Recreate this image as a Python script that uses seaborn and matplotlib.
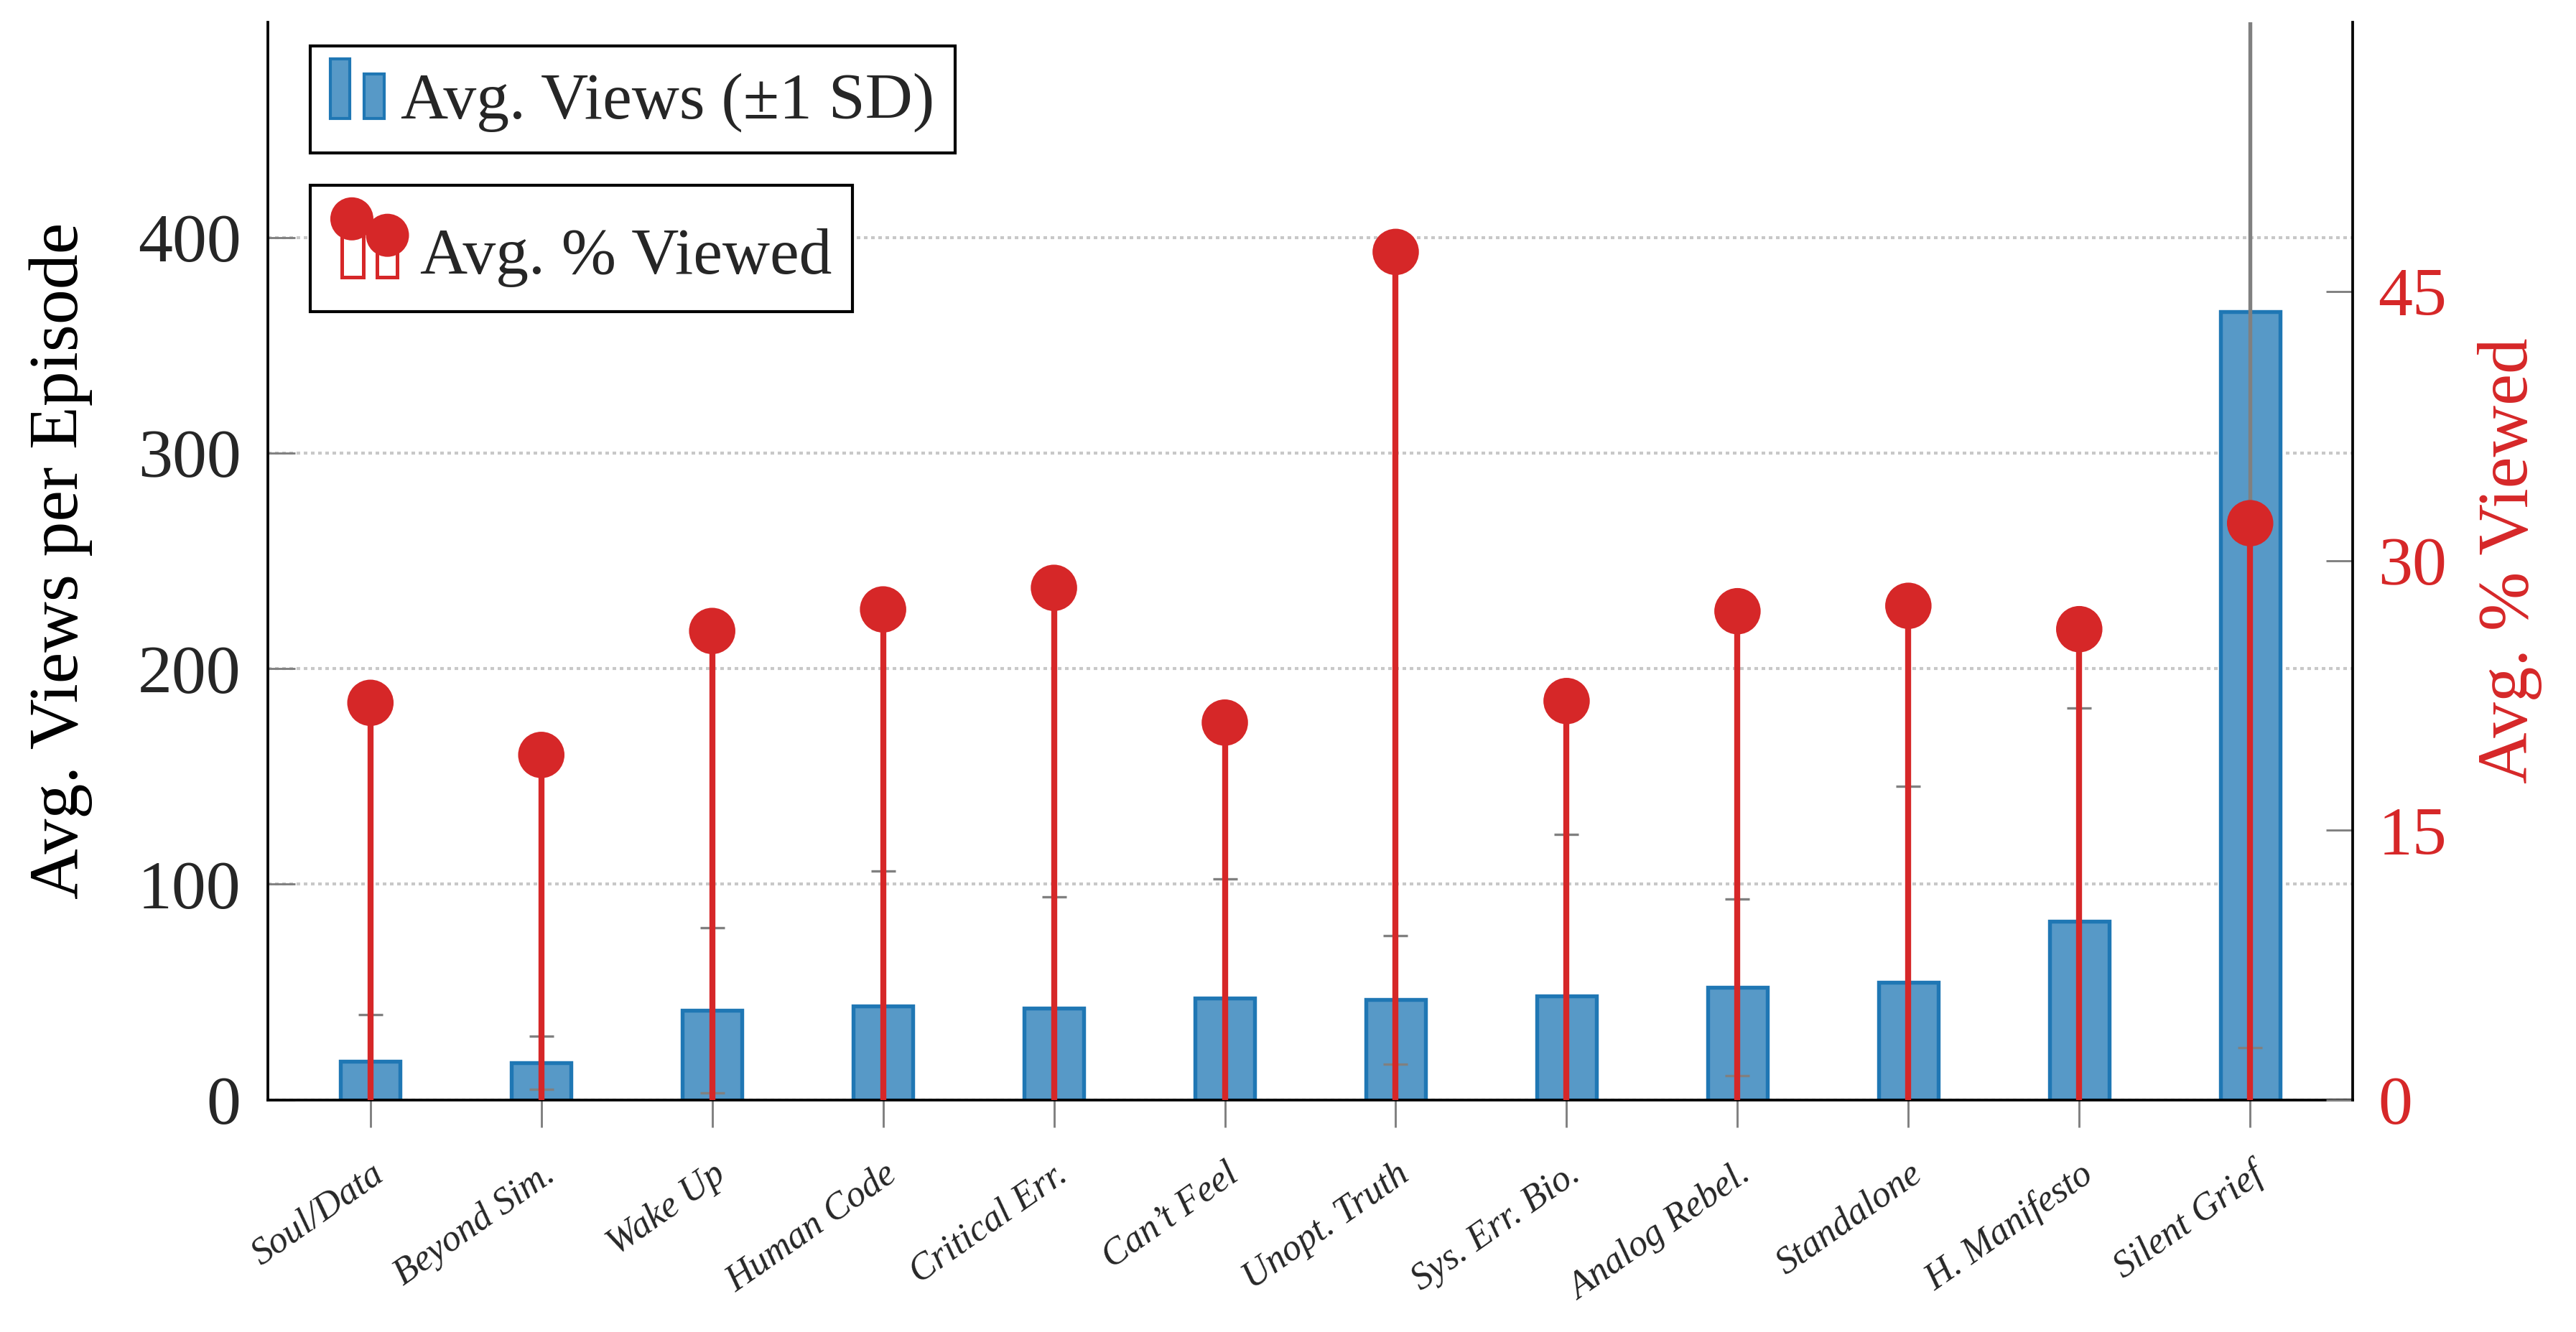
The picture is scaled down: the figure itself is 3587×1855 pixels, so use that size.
import numpy as np
import pandas as pd
import matplotlib
matplotlib.use("Agg")
import matplotlib.pyplot as plt
import seaborn as sns
from matplotlib.legend_handler import HandlerBase
from matplotlib.patches import Rectangle, Circle
from matplotlib.lines import Line2D
from matplotlib.offsetbox import DrawingArea

# ---------------- data ----------------
categories = ["Soul/Data", "Beyond Sim.", "Wake Up", "Human Code", "Critical Err.",
              "Can\u2019t Feel", "Unopt. Truth", "Sys. Err. Bio.", "Analog Rebel.",
              "Standalone", "H. Manifesto", "Silent Grief"]
avg_views = [18.0, 17.2, 41.6, 43.5, 42.5, 47.3, 46.4, 48.1, 52.1, 54.6, 82.9, 365.7]
sd_views = [21.4, 12.2, 38.4, 62.5, 51.5, 55.1, 29.7, 74.9, 41.0, 90.9, 99.0, 341.5]
avg_pct_viewed = [22.1, 19.2, 26.1, 27.3, 28.5, 21.0, 47.2, 22.2, 27.2, 27.5, 26.2, 32.1]

left_ticks = [0, 100, 200, 300, 400]
right_ticks = [0, 15, 30, 45]

BLUE_FILL = "#5799c7"
BLUE_EDGE = "#1f77b4"
RED = "#d62728"
GRAY = "#808080"

df = pd.DataFrame({"episode": categories, "views": avg_views,
                   "sd": sd_views, "pct": avg_pct_viewed})

sns.set_style("white")
plt.rcParams["font.family"] = ["Liberation Serif", "DejaVu Serif"]
plt.rcParams["mathtext.fontset"] = "stix"

fig = plt.figure(figsize=(3587 / 300, 1855 / 300), dpi=300)
ax = fig.add_axes([0.10399, 0.17429, 0.80931, 0.80922])

# bars
sns.barplot(data=df, x="episode", y="views", ax=ax, width=0.35, color=BLUE_FILL,
            saturation=1, edgecolor=BLUE_EDGE, linewidth=1.3, errorbar=None, zorder=2)
xpos = np.arange(len(categories))
ax.errorbar(xpos, df["views"], yerr=df["sd"], fmt="none", ecolor=GRAY,
            elinewidth=1.3, capsize=4, capthick=0.8, zorder=3)

ax.set_xlim(-0.6, len(categories) - 0.4)
ax.set_ylim(0, 500)
ax.set_yticks(left_ticks)
ax.set_axisbelow(True)
ax.yaxis.grid(True, linestyle=(0, (1.2, 1.2)), color="#c8c8c8", linewidth=1.0)
ax.xaxis.grid(False)
ax.set_xlabel("")
ax.set_ylabel("Avg. Views per Episode", fontsize=23.5, color="black")
ax.yaxis.set_label_coords(-0.084, 0.5)

ax.set_xticks(xpos)
ax.set_xticklabels(categories, rotation=35, ha="right", va="top",
                   rotation_mode="anchor", fontstyle="italic", fontsize=12.5)
ax.tick_params(axis="x", direction="out", length=9, width=0.7, color=GRAY, pad=10,
               bottom=True)
ax.tick_params(axis="y", direction="in", length=9, width=0.7, color=GRAY,
               labelsize=23, pad=9, left=True)

for s in ["left", "bottom"]:
    ax.spines[s].set_color("black")
    ax.spines[s].set_linewidth(0.9)
ax.spines["top"].set_visible(False)
ax.spines["right"].set_visible(False)

# lollipops on twin axis
ax2 = ax.twinx()
ax2.vlines(xpos, 0, df["pct"], color=RED, linewidth=2.0, zorder=3)
sns.scatterplot(x=xpos, y=df["pct"], ax=ax2, s=240, color=RED, edgecolor="none",
                legend=False, zorder=4)
ax2.set_xlim(-0.6, len(categories) - 0.4)
ax2.set_ylim(0, 60)
ax2.set_yticks(right_ticks)
ax2.tick_params(axis="y", direction="in", length=9, width=0.7, color=GRAY,
                labelsize=23, labelcolor=RED, pad=8.5, right=True)
ax2.set_ylabel("Avg. % Viewed", fontsize=23.8, color=RED)
ax2.yaxis.set_label_coords(1.06, 0.5)
ax2.set_xlabel("")
for s in ["left", "top", "bottom"]:
    ax2.spines[s].set_visible(False)
ax2.spines["right"].set_color("black")
ax2.spines["right"].set_linewidth(0.9)
ax2.grid(False)


# ---------------- custom legend handles ----------------
class BarsHandler(HandlerBase):
    def create_artists(self, legend, orig_handle, xdescent, ydescent, width, height,
                       fontsize, trans):
        x0 = -xdescent
        r1 = Rectangle((x0, 0), 6.5, 19.8, facecolor=BLUE_FILL, edgecolor=BLUE_EDGE,
                       linewidth=1.0, transform=trans)
        r2 = Rectangle((x0 + 11.3, 0), 6.7, 14.8, facecolor=BLUE_FILL,
                       edgecolor=BLUE_EDGE, linewidth=1.0, transform=trans)
        return [r1, r2]


class LolliHandler(HandlerBase):
    def create_artists(self, legend, orig_handle, xdescent, ydescent, width, height,
                       fontsize, trans):
        x0 = -xdescent
        r1 = Rectangle((x0 + 3.7, -1), 7.2, 14.0, facecolor="white", edgecolor=RED,
                       linewidth=1.2, transform=trans)
        r2 = Rectangle((x0 + 15.5, -1), 6.8, 9.0, facecolor="white", edgecolor=RED,
                       linewidth=1.2, transform=trans)
        c1 = Circle((x0 + 7.1, 18.4), 7.2, facecolor=RED, edgecolor="none",
                    transform=trans)
        c2 = Circle((x0 + 19.0, 12.9), 7.2, facecolor=RED, edgecolor="none",
                    transform=trans)
        return [r1, r2, c1, c2]


h_bar = Rectangle((0, 0), 1, 1)
h_lolli = Line2D([], [])

LEG_FS = 22
leg1 = ax2.legend([h_bar], ["Avg. Views (\u00b11 SD)"], handler_map={h_bar: BarsHandler()},
                  loc="upper left", bbox_to_anchor=(0.0203, 0.9777),
                  bbox_transform=ax2.transAxes, borderaxespad=0, fontsize=LEG_FS,
                  frameon=True, fancybox=False, shadow=False, framealpha=1,
                  edgecolor="black", borderpad=0.31, handlelength=0.82,
                  handleheight=1.0, handletextpad=0.25)
leg1.get_frame().set_linewidth(1.0)
ax2.add_artist(leg1)

leg2 = ax2.legend([h_lolli], ["Avg. % Viewed"], handler_map={h_lolli: LolliHandler()},
                  loc="upper left", bbox_to_anchor=(0.0203, 0.8485),
                  bbox_transform=ax2.transAxes, borderaxespad=0, fontsize=LEG_FS,
                  frameon=True, fancybox=False, shadow=False, framealpha=1,
                  edgecolor="black", borderpad=0.31, handlelength=1.23,
                  handleheight=1.0, handletextpad=0.13)
leg2.get_frame().set_linewidth(1.0)
# make the handle area of the second legend taller above the text baseline
for da in leg2.findobj(match=DrawingArea):
    da.height = 28.6
    da.ydescent = 5.8

fig.savefig("out.png", dpi=300, facecolor="white")
